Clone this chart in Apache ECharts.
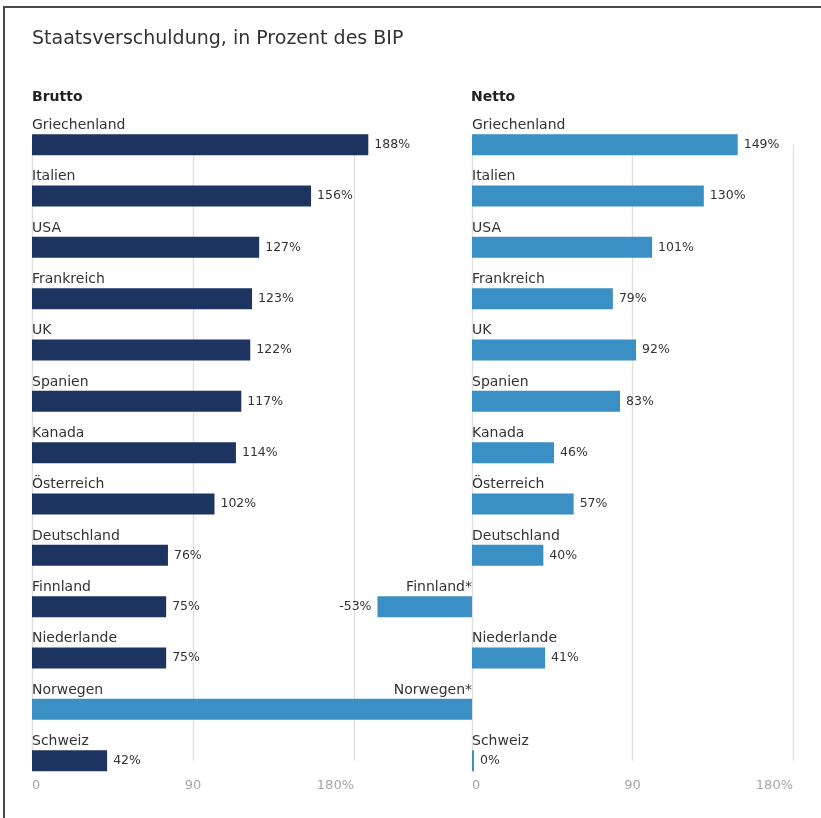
<!DOCTYPE html>
<html>
<head>
<meta charset="utf-8">
<script src="https://cdn.jsdelivr.net/npm/echarts@6/dist/echarts.min.js"></script>
<style>
html,body{margin:0;padding:0;background:#fff;}
#chart{position:absolute;left:0;top:0;width:821px;height:818px;}
#frame{position:absolute;left:3px;top:6px;right:0;bottom:0;border-left:2px solid #4a4a4a;border-top:2px solid #4a4a4a;pointer-events:none;}
</style>
</head>
<body>
<div id="chart"></div>
<div id="frame"></div>
<script>
const categories = ['Griechenland','Italien','USA','Frankreich','UK','Spanien','Kanada','Österreich','Deutschland','Finnland','Niederlande','Norwegen','Schweiz'];
const nettoLabels = ['Griechenland','Italien','USA','Frankreich','UK','Spanien','Kanada','Österreich','Deutschland','Finnland*','Niederlande','Norwegen*','Schweiz'];
const brutto = [188,156,127,123,122,117,114,102,76,75,75,null,42];
const netto = [149,130,101,79,92,83,46,57,40,-53,41,-300,0];
const tickLabels = {0:'0', 90:'90', 180:'180%'};

const FONT = 'DejaVu Sans';
const navy = '#1d3461';
const blue = '#3a8fc4';
const negMin = -246.7;

const catLabel = {
  inside: true, margin: 0, interval: 0, hideOverlap: false,
  verticalAlign: 'bottom', lineHeight: 39,
  fontSize: 14, color: '#333', fontFamily: FONT
};
function yAx(grid, data, fmt, pos){
  return {
    type:'category', gridIndex: grid, data: data, inverse: true, boundaryGap: false,
    position: pos,
    axisLine:{show:false}, axisTick:{show:false}, splitLine:{show:false},
    axisLabel: Object.assign({}, catLabel, {formatter: fmt})
  };
}
function xAx(grid){
  return {
    type:'value', gridIndex: grid, min:0, max:180, interval:90,
    axisLine:{show:false}, axisTick:{show:false},
    splitLine:{show:true, lineStyle:{color:'#e3dcdc', width:1.3}},
    axisLabel:{margin:18, fontSize:13, color:'#aaa5a5', fontFamily:FONT,
      alignMinLabel:'left', alignMaxLabel:'right',
      formatter: v => tickLabels[v] !== undefined ? tickLabels[v] : ''}
  };
}
const valLabel = {show:true, position:'right', distance:6, fontSize:12.5, color:'#333', fontFamily:FONT, formatter: p => p.value + '%'};

const chart = echarts.init(document.getElementById('chart'), null, {renderer:'canvas'});
chart.setOption({
  animation:false,
  title:[
    {text:'Staatsverschuldung, in Prozent des BIP', left:32, top:30, padding:0,
     textStyle:{fontSize:19, fontWeight:'normal', color:'#333', fontFamily:FONT}},
    {text:'Brutto', left:32, top:90, padding:0, textStyle:{fontSize:14, fontWeight:'bold', color:'#222', fontFamily:FONT}},
    {text:'Netto', left:471, top:90, padding:0, textStyle:{fontSize:14, fontWeight:'bold', color:'#222', fontFamily:FONT}}
  ],
  grid:[
    {left:32, width:322, top:144.7, height:616},
    {left:472, width:321, top:144.7, height:616},
    {left:32, width:440, top:144.7, height:616}
  ],
  xAxis:[
    xAx(0), xAx(1),
    {type:'value', gridIndex:2, min:negMin, max:0, show:false, splitLine:{show:false}}
  ],
  yAxis:[
    yAx(0, categories, v => v, 'left'),
    yAx(1, nettoLabels, (v,i) => netto[i] >= 0 ? v : '', 'left'),
    yAx(2, nettoLabels, (v,i) => netto[i] < 0 ? v : '', 'right')
  ],
  series:[
    {type:'bar', xAxisIndex:0, yAxisIndex:0, data: brutto, barWidth:21, clip:false,
     itemStyle:{color:navy}, label: valLabel},
    {type:'bar', xAxisIndex:1, yAxisIndex:1, data: netto.map(v => v >= 0 ? v : null), barWidth:21, barMinHeight:2,
     itemStyle:{color:blue}, label: valLabel},
    {type:'bar', xAxisIndex:2, yAxisIndex:2, data: netto.map(v => v < 0 ? v : null), barWidth:21, clip:true,
     itemStyle:{color:blue},
     label: Object.assign({}, valLabel, {position:'left', distance:6, formatter: p => p.value < negMin ? '' : p.value + '%'})}
  ]
});
</script>
</body>
</html>
